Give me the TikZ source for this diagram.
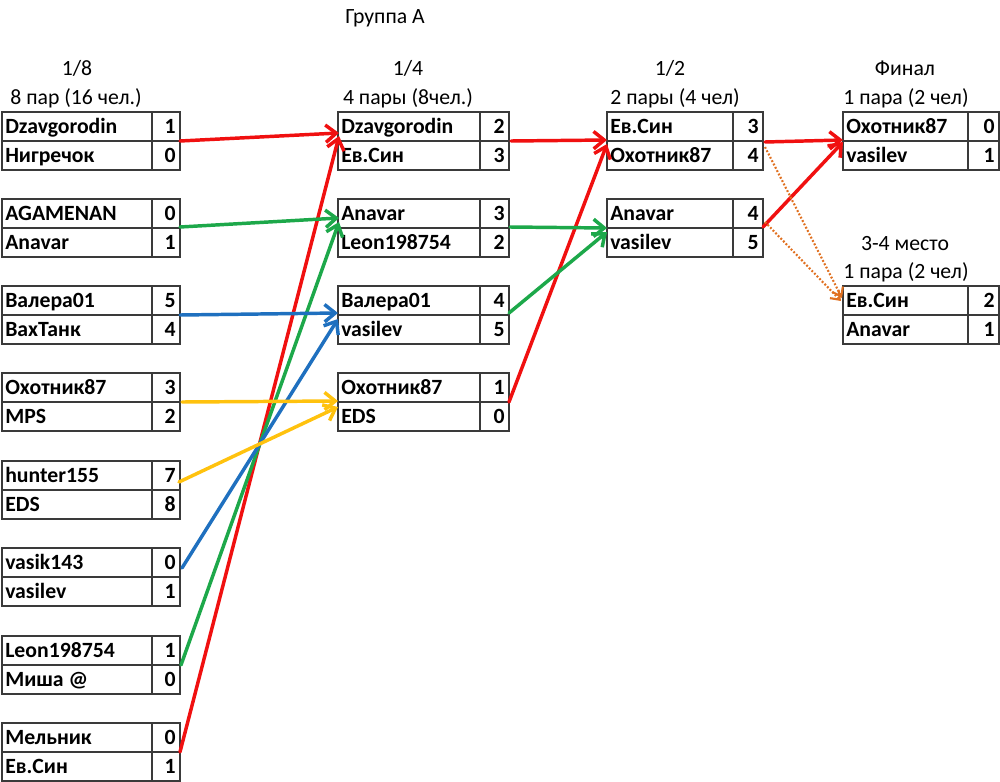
\documentclass[tikz,border=0pt]{standalone}
\usepackage{fontspec}
\setmainfont{Carlito}
\usetikzlibrary{arrows.meta,calc}
\definecolor{xred}{HTML}{F01010}
\definecolor{xgreen}{HTML}{1DA84A}
\definecolor{xblue}{HTML}{1F70BF}
\definecolor{xyellow}{HTML}{FFC20E}
\definecolor{xorange}{HTML}{E07020}
\definecolor{gridc}{HTML}{3A3A3A}
\newcommand\matchbox[9]{%
  \node[mbox, minimum width={(#5-(#2))*0.75pt}, anchor=north west] (#1) at (#2,#3) {};
  \draw[cellline] (#1.west) -- (#1.east);
  \draw[cellline] (#4,#3) -- (#4,#3+58);
  \node[nm] (#1-n1) at (#2+3,#3+21) {#6};
  \node[sc] (#1-s1) at (#5-4,#3+21) {#7};
  \node[nm] (#1-n2) at (#2+3,#3+50) {#8};
  \node[sc] (#1-s2) at (#5-4,#3+50) {#9};
}
\begin{document}
\begin{tikzpicture}[x=0.75pt,y=-0.75pt,
  mbox/.style={draw=gridc, line width=0.9pt, minimum height=43.5pt, inner sep=0pt, outer sep=0pt},
  cellline/.style={draw=gridc, line width=0.9pt},
  nm/.style={font=\fontsize{16.3}{19}\selectfont\bfseries, inner sep=0pt, anchor=base west},
  sc/.style={nm, anchor=base east},
  hd/.style={font=\fontsize{16.3}{19}\selectfont, inner sep=0pt, anchor=base},
  conn/.style={line width=2.6pt, -{Straight Barb[length=8pt,width=13pt]}, line cap=round, line join=round},
  dotconn/.style={line width=1.6pt, xorange, dash pattern=on 1.4pt off 1.4pt, -{Straight Barb[length=6pt,width=9pt]}}]
\useasboundingbox (0,0) rectangle (1000,782);
% headings
\node[hd] (title) at (385,23) {Группа А};
\node[hd] (h1a) at (77,75) {1/8};
\node[hd] (h1b) at (76,104) {8 пар (16 чел.)};
\node[hd] (h2a) at (408,75) {1/4};
\node[hd] (h2b) at (408,104) {4 пары (8чел.)};
\node[hd] (h3a) at (670,75) {1/2};
\node[hd] (h3b) at (675,104) {2 пары (4 чел)};
\node[hd] (h4a) at (905,75) {Финал};
\node[hd] (h4b) at (906,104) {1 пара (2 чел)};
\node[hd] (h5a) at (905,250) {3-4 место};
\node[hd] (h5b) at (906,278) {1 пара (2 чел)};
% round 1/8
\matchbox{a1}{2}{112}{152}{180}{Dzavgorodin}{1}{Нигречок}{0}
\matchbox{a2}{2}{199}{152}{180}{AGAMENAN}{0}{Anavar}{1}
\matchbox{a3}{2}{286}{152}{180}{Валера01}{5}{ВахТанк}{4}
\matchbox{a4}{2}{373}{152}{180}{Охотник87}{3}{MPS}{2}
\matchbox{a5}{2}{461}{152}{180}{hunter155}{7}{EDS}{8}
\matchbox{a6}{2}{548}{152}{180}{vasik143}{0}{vasilev}{1}
\matchbox{a7}{2}{636}{152}{180}{Leon198754}{1}{Миша @}{0}
\matchbox{a8}{2}{723}{152}{180}{Мельник}{0}{Ев.Син}{1}
% round 1/4
\matchbox{b1}{338}{112}{480}{509}{Dzavgorodin}{2}{Ев.Син}{3}
\matchbox{b2}{338}{199}{480}{509}{Anavar}{3}{Leon198754}{2}
\matchbox{b3}{338}{286}{480}{509}{Валера01}{4}{vasilev}{5}
\matchbox{b4}{338}{373}{480}{509}{Охотник87}{1}{EDS}{0}
% round 1/2
\matchbox{c1}{607}{112}{733}{763}{Ев.Син}{3}{Охотник87}{4}
\matchbox{c2}{607}{199}{733}{763}{Anavar}{4}{vasilev}{5}
% final and 3-4
\matchbox{d1}{843}{112}{968}{999}{Охотник87}{0}{vasilev}{1}
\matchbox{e1}{843}{286}{968}{999}{Ев.Син}{2}{Anavar}{1}
% connectors 1/8 -> 1/4
\draw[conn, xred] (a1.east) -- ($(b1.west)+(1,-8)$);
\draw[conn, xred] (a8.east) -- ($(b1.west)+(1,-5)$);
\draw[conn, xgreen] ($(a2.east)+(0,-1)$) -- ($(b2.west)+(1,-10)$);
\draw[conn, xgreen] ($(a7.east)+(1,0)$) -- ($(b2.west)+(1,-6)$);
\draw[conn, xblue] (a3.east) -- ($(b3.west)+(0,-2)$);
\draw[conn, xblue] ($(a6.east)+(2,-9)$) -- ($(b3.west)+(0,4)$);
\draw[conn, xyellow] ($(a4.east)+(2,0)$) -- ($(b4.west)+(0,-1)$);
\draw[conn, xyellow] ($(a5.east)+(-1,-8)$) -- ($(b4.west)+(0,5)$);
% 1/4 -> 1/2
\draw[conn, xred] ($(b1.east)+(2,0)$) -- ($(c1.west)+(0,-1)$);
\draw[conn, xred] (b4.east) -- ($(c1.west)+(0,3)$);
\draw[conn, xgreen] ($(b2.east)+(1,-1)$) -- (c2.west);
\draw[conn, xgreen] ($(b3.east)+(0,-2)$) -- ($(c2.west)+(0,4)$);
% 1/2 -> final
\draw[conn, xred] ($(c1.east)+(2,1)$) -- ($(d1.west)+(0,-1)$);
\draw[conn, xred] ($(c2.east)+(0,-1)$) -- ($(d1.west)+(0,1)$);
% 1/2 -> 3-4
\draw[dotconn] ($(c1.east)+(2,6)$) -- ($(e1.west)+(-1,-17)$);
\draw[dotconn] ($(c2.east)+(2,-6)$) -- ($(e1.west)+(-2,-14)$);
\end{tikzpicture}
\end{document}
